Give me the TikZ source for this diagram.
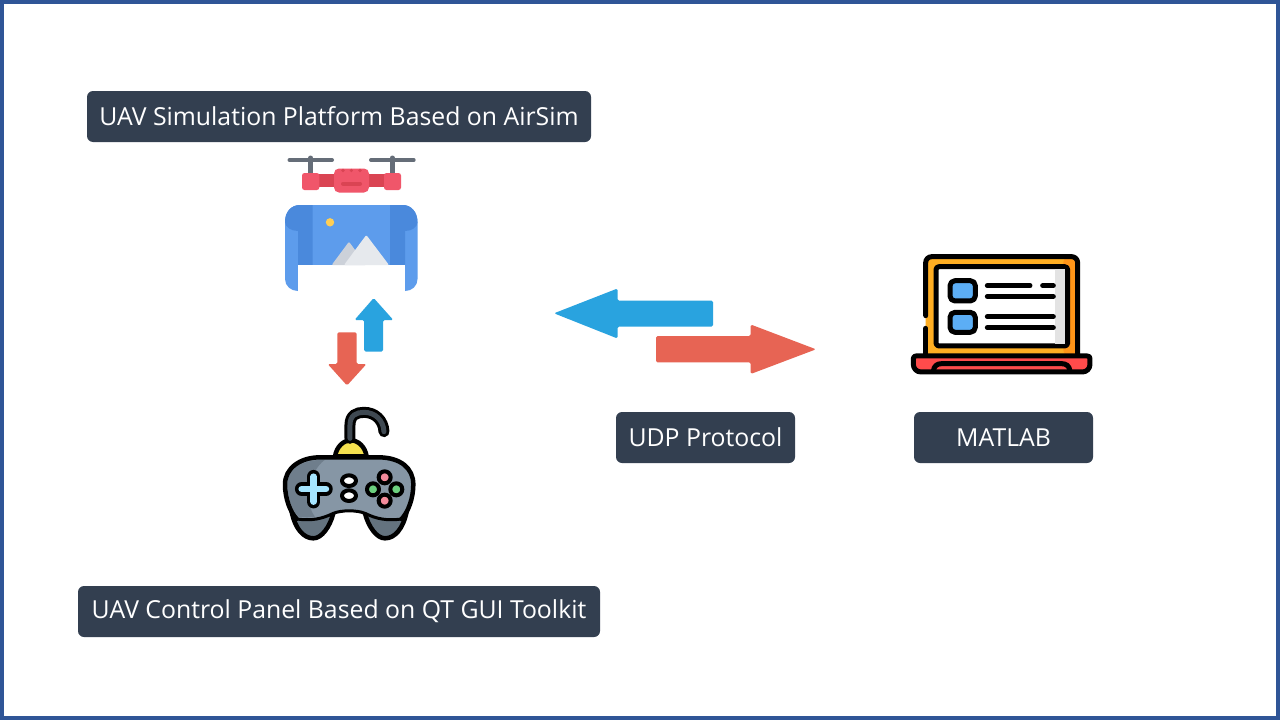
\documentclass[tikz,border=0pt]{standalone}
\usepackage{fontspec}
\setmainfont{Open Sans}
\definecolor{frameblue}{HTML}{2F5597}
\definecolor{labelbg}{HTML}{333F50}
\definecolor{arrowblue}{HTML}{29A3DF}
\definecolor{arrowred}{HTML}{E76454}
\definecolor{imgl}{HTML}{5D9CEC}
\definecolor{imgd}{HTML}{4A89DC}
\definecolor{dronered}{HTML}{F0566A}
\definecolor{droned}{HTML}{DA4453}
\definecolor{propgrey}{HTML}{656D78}
\definecolor{sun}{HTML}{FFCE54}
\definecolor{mtback}{HTML}{CCD1D9}
\definecolor{mtfront}{HTML}{E6E9ED}
\definecolor{padbody}{HTML}{8696A5}
\definecolor{padshade}{HTML}{6F7E8C}
\definecolor{padlobe}{HTML}{64737F}
\definecolor{padcable}{HTML}{3F4952}
\definecolor{dome}{HTML}{F5E14F}
\definecolor{dpad}{HTML}{A5E5FF}
\definecolor{padpink}{HTML}{F48B9B}
\definecolor{padgreen}{HTML}{6CD07F}
\definecolor{lapl}{HTML}{FFAE22}
\definecolor{lapd}{HTML}{FF9518}
\definecolor{lapsq}{HTML}{5CAEF5}
\definecolor{lapbase}{HTML}{FF4B4B}
\definecolor{lapside}{HTML}{E3E3E3}
\tikzset{
  labelbox/.style={fill=labelbg,rounded corners=6pt,text=white,font=\fontsize{24.8}{28}\selectfont,inner sep=0pt,anchor=center},
  blockarrow/.style={rounded corners=1.5pt,draw=none},
  icon/.style={shift={(#1)},x=0.3333pt,y=-0.3333pt},
  ol/.style={draw=black,line width=4.5pt,line join=round,line cap=round},
  olb/.style={draw=black,line width=5pt,line join=round,line cap=round},
  bar/.style={line width=5pt,line cap=round,black},
}
\begin{document}
\begin{tikzpicture}[x=1pt,y=-1pt]
\useasboundingbox (0,0) rectangle (1280,720);
\fill[white] (0,0) rectangle (1280,720);
\draw[frameblue,line width=4pt] (2,2) rectangle (1278,718);

% labels
\node[labelbox,minimum width=504pt,minimum height=51pt] (sim) at (339,116.5) {\raisebox{-0.5pt}{UAV Simulation Platform Based on AirSim}};
\node[labelbox,minimum width=522pt,minimum height=51pt] (panel) at (339,611.5) {\raisebox{-1pt}{UAV Control Panel Based on QT GUI Toolkit}};
\node[labelbox,minimum width=179pt,minimum height=51pt] (udp) at (705.5,437.5) {UDP Protocol};
\node[labelbox,minimum width=179pt,minimum height=51pt] (matlab) at (1003.5,437.5) {MATLAB};

% block arrows
\fill[arrowblue,blockarrow] (554,313.3) -- (617.5,288.5) -- (617.5,300.7) -- (713,300.7) -- (713,326.7) -- (617.5,326.7) -- (617.5,338.5) -- cycle;
\fill[arrowred,blockarrow] (816,349.3) -- (750.7,324.5) -- (750.7,336) -- (656,336) -- (656,362.3) -- (750.7,362.3) -- (750.7,374) -- cycle;
\fill[arrowblue,blockarrow] (373.7,298) -- (393.3,320) -- (383,320) -- (383,351.5) -- (364,351.5) -- (364,320) -- (354.5,320) -- cycle;
\fill[arrowred,blockarrow] (347,385.5) -- (366.5,364) -- (356.7,364) -- (356.7,332.3) -- (337.3,332.3) -- (337.3,364) -- (327.7,364) -- cycle;

% drone
\draw[propgrey,line width=4pt,line cap=round] (289.5,160) -- (332,160) (371,160) -- (413.7,160);
\draw[propgrey,line width=5pt,line cap=round] (310.7,158) -- (310.7,175) (392.3,158) -- (392.3,175);
\fill[droned] (318,174) rectangle (386,186.5);
\fill[dronered,rounded corners=2.5pt] (302,173) rectangle (319.3,190);
\fill[dronered,rounded corners=2.5pt] (384,173) rectangle (401,190);
\fill[dronered,rounded corners=5pt] (334,168.5) rectangle (369,192.5);
\fill[droned] (343,170.5) circle (1.8) (351.3,170.5) circle (1.8) (360,170.5) circle (1.8);
\draw[droned,line width=4pt,line cap=round] (343,183.7) -- (360,183.7);

% image roll
\fill[imgl] (285,222) .. controls (285,212) and (291,205) .. (300,205) -- (403,205) .. controls (411,205) and (417.5,212) .. (417.5,222) -- (417.5,279) .. controls (417.5,286) and (412,291) .. (405,291) -- (298,291) .. controls (291,291) and (285,286) .. (285,279) -- cycle;
\fill[imgd] (285,222) .. controls (285,212) and (291,205) .. (300,205) -- (312.7,205) -- (312.7,265) -- (298,265) -- (298,231) .. controls (291,231) and (285,227) .. (285,222) -- cycle;
\fill[imgd] (417.5,222) .. controls (417.5,212) and (411,205) .. (403,205) -- (390,205) -- (390,265) -- (405,265) -- (405,231) .. controls (412,231) and (417.5,227) .. (417.5,222) -- cycle;
\fill[white] (298,265) rectangle (405,292);
\fill[sun] (330,222.3) circle (4.2);
\fill[mtback,rounded corners=1pt] (331.7,265) -- (349,241.7) -- (366,265) -- cycle;
\fill[mtfront,rounded corners=1pt] (344,265) -- (366.3,235) -- (389,265) -- cycle;

% gamepad
\begin{scope}[icon={270,395}]
  \draw[ol,fill=padlobe] (65,350) .. controls (75,400) and (100,430) .. (130,430) .. controls (155,430) and (180,395) .. (190,355) -- cycle;
  \draw[ol,fill=padlobe] (410,350) .. controls (400,400) and (375,430) .. (345,430) .. controls (320,430) and (295,395) .. (285,355) -- cycle;
  \fill[padbody] (150,187) -- (325,187) .. controls (392,187) and (430,220) .. (430,268) .. controls (430,310) and (415,350) .. (395,372) .. controls (350,378) and (320,372) .. (285,355) .. controls (260,345) and (215,345) .. (190,355) .. controls (155,372) and (125,378) .. (80,372) .. controls (60,350) and (45,310) .. (45,268) .. controls (45,220) and (90,187) .. (150,187) -- cycle;
  \fill[padshade] (165,194) .. controls (95,194) and (52,222) .. (52,268) .. controls (52,305) and (65,345) .. (85,365) .. controls (105,368) and (120,367) .. (135,365) .. controls (105,330) and (110,235) .. (165,194) -- cycle;
  \draw[black,line width=3pt,line cap=round] (395,372) .. controls (350,378) and (320,372) .. (285,355) .. controls (260,345) and (215,345) .. (190,355) .. controls (155,372) and (125,378) .. (80,372);
  \draw[ol] (80,372) .. controls (60,350) and (45,310) .. (45,268) .. controls (45,220) and (90,187) .. (150,187) -- (325,187) .. controls (392,187) and (430,220) .. (430,268) .. controls (430,310) and (415,350) .. (395,372);
  \draw[ol,fill=dome] (195,184) .. controls (200,155) and (220,136) .. (242,136) .. controls (265,136) and (285,155) .. (290,184) -- cycle;
  \draw[black,line width=11pt,line cap=round] (240,130) -- (240,90) .. controls (240,60) and (260,52) .. (282,52) .. controls (315,52) and (340,75) .. (342,110);
  \draw[padcable,line width=5pt,line cap=round] (240,130) -- (240,90) .. controls (240,60) and (260,52) .. (282,52) .. controls (315,52) and (340,75) .. (342,110);
  \draw[black,line width=13.5pt,line cap=round] (95,282) -- (168,282) (131,245) -- (131,320);
  \draw[dpad,line width=6.5pt,line cap=round] (95,282) -- (168,282) (131,245) -- (131,320);
  \draw[ol,fill=white,line width=4pt] (237,257) ellipse (21 and 16);
  \draw[ol,fill=white,line width=4pt] (237,302) ellipse (21 and 16);
  \draw[ol,fill=padpink,line width=4pt] (344,247) circle (18);
  \draw[ol,fill=padpink,line width=4pt] (344,317) circle (18);
  \draw[ol,fill=padgreen,line width=4pt] (309,283) circle (18);
  \draw[ol,fill=padgreen,line width=4pt] (379,283) circle (18);
\end{scope}

% laptop
\begin{scope}[icon={900,245}]
  \fill[lapl,rounded corners=6pt] (77,35) rectangle (533,332);
  \fill[lapd,rounded corners=6pt] (490,35) rectangle (533,332);
  \draw[olb,rounded corners=6pt] (77,212) -- (77,35) -- (533,35) -- (533,332);
  \draw[olb] (77,250) -- (77,332);
  \draw[olb,fill=white,rounded corners=3pt] (108,65) rectangle (503,303);
  \fill[lapside] (465,72) rectangle (495,296);
  \draw[olb,fill=lapsq,rounded corners=5pt] (150,107) rectangle (226,168);
  \draw[olb,fill=lapsq,rounded corners=5pt] (150,202) rectangle (226,262);
  \draw[bar] (262,122) -- (390,122) (428,122) -- (460,122) (262,154) -- (460,154) (262,215) -- (460,215) (262,248) -- (460,248);
  \draw[olb,fill=lapbase] (48,333) -- (562,333) .. controls (567,333) and (570,336) .. (570,341) -- (570,358) .. controls (570,371) and (560,381) .. (547,381) -- (63,381) .. controls (50,381) and (40,371) .. (40,358) -- (40,341) .. controls (40,336) and (43,333) .. (48,333) -- cycle;
  \draw[olb] (100,378) .. controls (102,362) and (112,356) .. (125,356) -- (485,356) .. controls (498,356) and (508,362) .. (510,378);
\end{scope}
\end{tikzpicture}
\end{document}
